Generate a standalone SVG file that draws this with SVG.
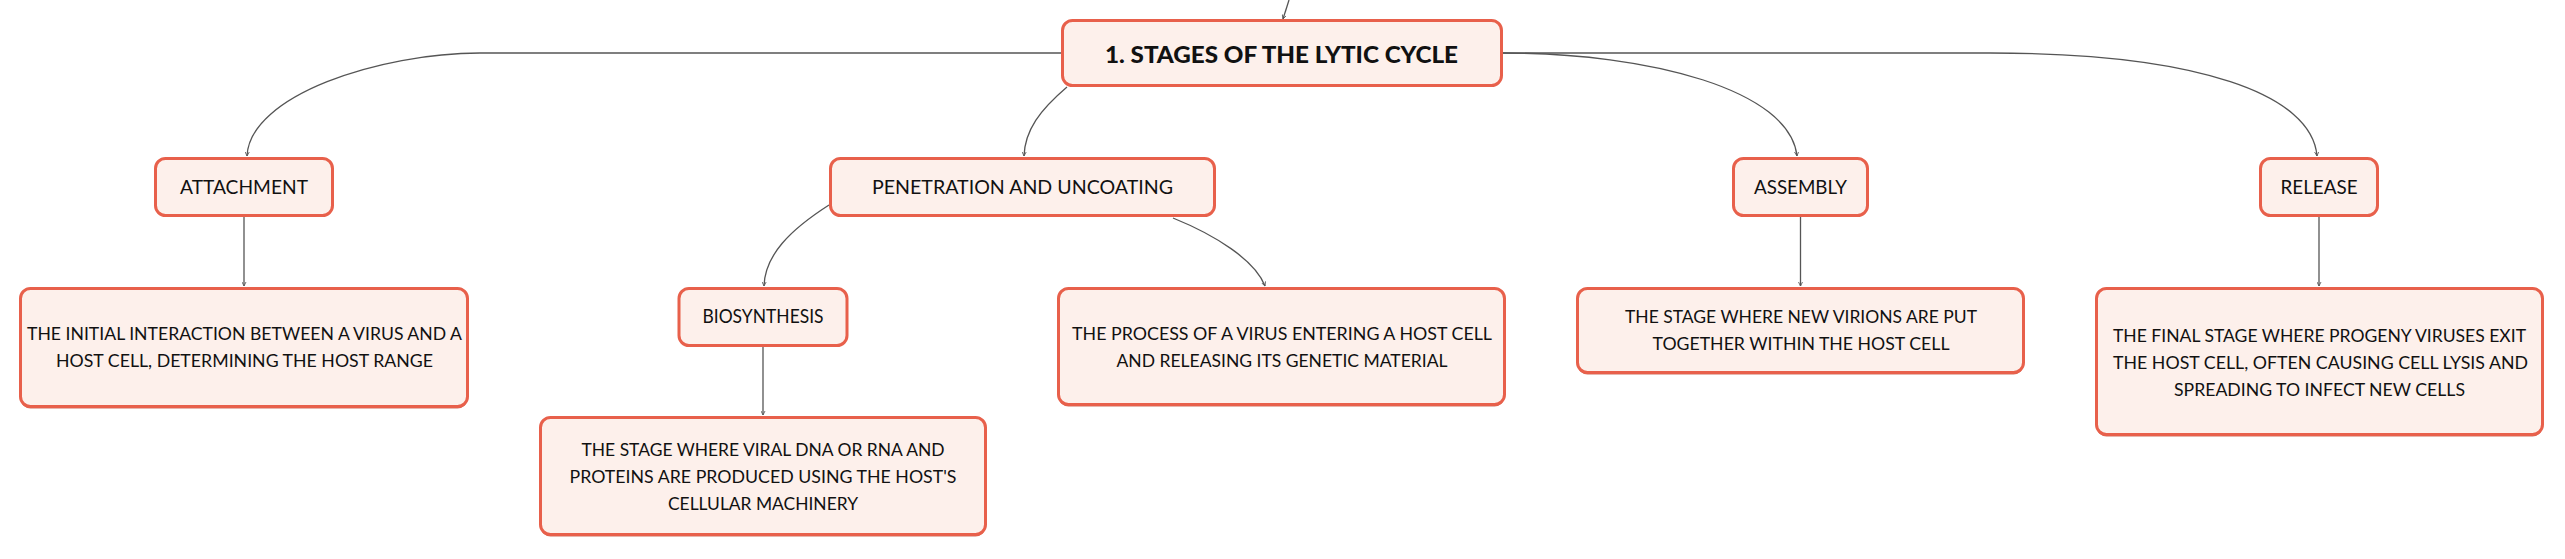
<svg xmlns="http://www.w3.org/2000/svg" width="2565" height="559" viewBox="0 0 2565 559">
<defs>
<style>
.box{fill:#fdf0eb;stroke:#e8604b;stroke-width:3}
.shadow{fill:#cf6e5d}
.conn{fill:none;stroke:#555;stroke-width:1.3}
.lbl{font-family:Lato,"Noto Sans",sans-serif;font-size:20px;fill:#111;text-anchor:middle}
.desc{font-family:Lato,"Noto Sans",sans-serif;font-size:18px;fill:#111;text-anchor:middle}
.title{font-family:Lato,"Noto Sans",sans-serif;font-size:23px;font-weight:900;fill:#111;text-anchor:middle}
</style>
<marker id="arr" viewBox="0 0 6 6" refX="5" refY="3" markerWidth="5" markerHeight="5" orient="auto" markerUnits="userSpaceOnUse">
<path d="M0,0.5 L5,3 L0,5.5" fill="none" stroke="#555" stroke-width="1"/>
</marker>
</defs>
<rect width="2565" height="559" fill="#ffffff"/>
<g id="connectors">
<path class="conn" d="M1289,0 L1283,19" marker-end="url(#arr)"/>
<path class="conn" d="M1061,53 L480,53 C380,53 250,95 247,156" marker-end="url(#arr)"/>
<path class="conn" d="M1067,87 C1040,110 1025,130 1024,156" marker-end="url(#arr)"/>
<path class="conn" d="M1503,53 C1650,53 1790,90 1797,156" marker-end="url(#arr)"/>
<path class="conn" d="M1503,53 L1990,53 C2200,53 2312,95 2317,156" marker-end="url(#arr)"/>
<path class="conn" d="M244,217 L244,286" marker-end="url(#arr)"/>
<path class="conn" d="M829,205 C790,230 765,255 764,286" marker-end="url(#arr)"/>
<path class="conn" d="M763,347 L763,415" marker-end="url(#arr)"/>
<path class="conn" d="M1173,218 C1215,235 1255,260 1265,286" marker-end="url(#arr)"/>
<path class="conn" d="M1800.5,217 L1800.5,286" marker-end="url(#arr)"/>
<path class="conn" d="M2319,217 L2319,286" marker-end="url(#arr)"/>
</g>
<g id="node-main">
<rect class="box" x="1062.5" y="20.5" width="439" height="65" rx="10"/>
<text class="title" x="1281.5" y="62.5" textLength="353" lengthAdjust="spacingAndGlyphs">1. STAGES OF THE LYTIC CYCLE</text>
</g>
<g id="node-attachment">
<rect class="box" x="155.5" y="158.5" width="177" height="57" rx="10"/>
<text class="lbl" x="244" y="194" textLength="128" lengthAdjust="spacingAndGlyphs">ATTACHMENT</text>
</g>
<g id="node-attachment-desc">
<rect class="shadow" x="20.5" y="290.5" width="447" height="118" rx="10"/>
<rect class="box" x="20.5" y="288.5" width="447" height="118" rx="10"/>
<text class="desc" x="244.5" y="340" textLength="435" lengthAdjust="spacingAndGlyphs">THE INITIAL INTERACTION BETWEEN A VIRUS AND A</text>
<text class="desc" x="244.5" y="367" textLength="377" lengthAdjust="spacingAndGlyphs">HOST CELL, DETERMINING THE HOST RANGE</text>
</g>
<g id="node-penetration">
<rect class="box" x="830.5" y="158.5" width="384" height="57" rx="10"/>
<text class="lbl" x="1022.5" y="194" textLength="301" lengthAdjust="spacingAndGlyphs">PENETRATION AND UNCOATING</text>
</g>
<g id="node-biosynthesis">
<rect class="box" x="679" y="288.5" width="168" height="57" rx="10"/>
<text class="lbl" x="763" y="323" textLength="121" lengthAdjust="spacingAndGlyphs">BIOSYNTHESIS</text>
</g>
<g id="node-biosynthesis-desc">
<rect class="shadow" x="540.5" y="419.5" width="445" height="117" rx="10"/>
<rect class="box" x="540.5" y="417.5" width="445" height="117" rx="10"/>
<text class="desc" x="763" y="456" textLength="363" lengthAdjust="spacingAndGlyphs">THE STAGE WHERE VIRAL DNA OR RNA AND</text>
<text class="desc" x="763" y="483" textLength="387" lengthAdjust="spacingAndGlyphs">PROTEINS ARE PRODUCED USING THE HOST'S</text>
<text class="desc" x="763" y="510" textLength="190" lengthAdjust="spacingAndGlyphs">CELLULAR MACHINERY</text>
</g>
<g id="node-penetration-desc">
<rect class="shadow" x="1058.5" y="290.5" width="446" height="116" rx="10"/>
<rect class="box" x="1058.5" y="288.5" width="446" height="116" rx="10"/>
<text class="desc" x="1282" y="340" textLength="420" lengthAdjust="spacingAndGlyphs">THE PROCESS OF A VIRUS ENTERING A HOST CELL</text>
<text class="desc" x="1282" y="367" textLength="331" lengthAdjust="spacingAndGlyphs">AND RELEASING ITS GENETIC MATERIAL</text>
</g>
<g id="node-assembly">
<rect class="box" x="1733.5" y="158.5" width="134" height="57" rx="10"/>
<text class="lbl" x="1800.5" y="194" textLength="93" lengthAdjust="spacingAndGlyphs">ASSEMBLY</text>
</g>
<g id="node-assembly-desc">
<rect class="shadow" x="1577.5" y="290.5" width="446" height="84" rx="10"/>
<rect class="box" x="1577.5" y="288.5" width="446" height="84" rx="10"/>
<text class="desc" x="1801" y="323" textLength="352" lengthAdjust="spacingAndGlyphs">THE STAGE WHERE NEW VIRIONS ARE PUT</text>
<text class="desc" x="1801" y="350" textLength="297" lengthAdjust="spacingAndGlyphs">TOGETHER WITHIN THE HOST CELL</text>
</g>
<g id="node-release">
<rect class="box" x="2260.5" y="158.5" width="117" height="57" rx="10"/>
<text class="lbl" x="2319" y="194" textLength="77" lengthAdjust="spacingAndGlyphs">RELEASE</text>
</g>
<g id="node-release-desc">
<rect class="shadow" x="2096.5" y="290.5" width="446" height="146" rx="10"/>
<rect class="box" x="2096.5" y="288.5" width="446" height="146" rx="10"/>
<text class="desc" x="2319.5" y="342" textLength="413" lengthAdjust="spacingAndGlyphs">THE FINAL STAGE WHERE PROGENY VIRUSES EXIT</text>
<text class="desc" x="2320.5" y="369" textLength="415" lengthAdjust="spacingAndGlyphs">THE HOST CELL, OFTEN CAUSING CELL LYSIS AND</text>
<text class="desc" x="2319.5" y="396" textLength="291" lengthAdjust="spacingAndGlyphs">SPREADING TO INFECT NEW CELLS</text>
</g>
</svg>
